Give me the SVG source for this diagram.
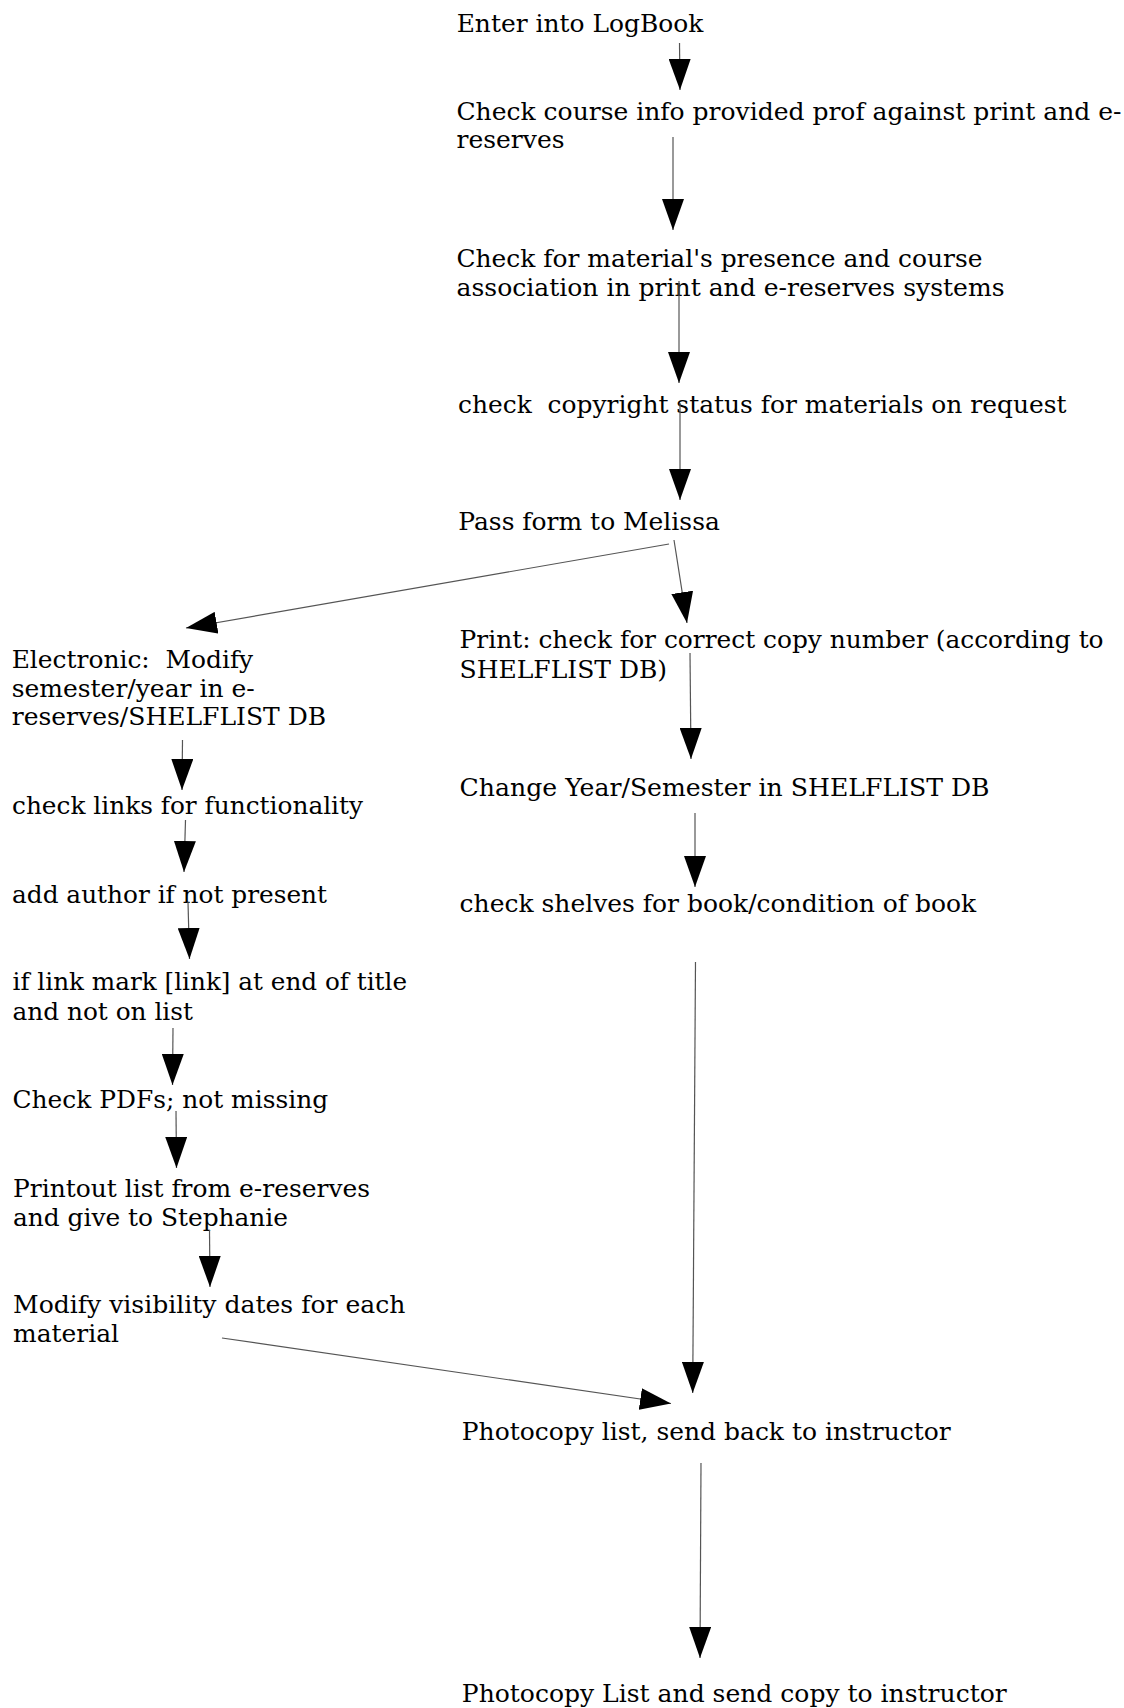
<svg xmlns="http://www.w3.org/2000/svg" width="1124" height="1708" viewBox="0 0 1124 1708">
<defs>
<style>
text{font-family:"DejaVu Serif","Liberation Serif",serif;font-size:25px;fill:#000}
.c line{stroke:#555;stroke-width:1.2;fill:none;marker-end:url(#ah)}
</style>
<marker id="ah" markerUnits="userSpaceOnUse" markerWidth="31" markerHeight="22" refX="31" refY="11" orient="auto" viewBox="0 0 31 22">
<path d="M0,0 L31,11 L0,22 Z" fill="#000"/>
</marker>
</defs>
<rect width="1124" height="1708" fill="#fff"/>
<g id="n1"><text x="456.7" y="31.7" textLength="246.6" lengthAdjust="spacingAndGlyphs">Enter into LogBook</text></g>
<g id="n2"><text x="456.5" y="119.5" textLength="665" lengthAdjust="spacingAndGlyphs">Check course info provided prof against print and e-</text><text x="456.5" y="148.3" textLength="108" lengthAdjust="spacingAndGlyphs">reserves</text></g>
<g id="n3"><text x="456.5" y="267" textLength="526" lengthAdjust="spacingAndGlyphs">Check for material's presence and course</text><text x="456.5" y="296" textLength="548" lengthAdjust="spacingAndGlyphs">association in print and e-reserves systems</text></g>
<g id="n4"><text x="458" y="413.3" textLength="608.5" lengthAdjust="spacingAndGlyphs" xml:space="preserve">check  copyright status for materials on request</text></g>
<g id="n5"><text x="458.3" y="530" textLength="261.5" lengthAdjust="spacingAndGlyphs">Pass form to Melissa</text></g>
<g id="n6"><text x="459.6" y="648.3" textLength="644" lengthAdjust="spacingAndGlyphs">Print: check for correct copy number (according to</text><text x="459.6" y="678.3" textLength="207.5" lengthAdjust="spacingAndGlyphs">SHELFLIST DB)</text></g>
<g id="n7"><text x="459.6" y="795.7" textLength="530" lengthAdjust="spacingAndGlyphs">Change Year/Semester in SHELFLIST DB</text></g>
<g id="n8"><text x="459.6" y="912.3" textLength="516.6" lengthAdjust="spacingAndGlyphs">check shelves for book/condition of book</text></g>
<g id="n9"><text x="461.8" y="1440" textLength="489" lengthAdjust="spacingAndGlyphs">Photocopy list, send back to instructor</text></g>
<g id="n10"><text x="461.8" y="1701.7" textLength="545" lengthAdjust="spacingAndGlyphs">Photocopy List and send copy to instructor</text></g>
<g id="e1"><text x="11.7" y="668" textLength="241.5" lengthAdjust="spacingAndGlyphs" xml:space="preserve">Electronic:  Modify</text><text x="11.7" y="696.7" textLength="243" lengthAdjust="spacingAndGlyphs">semester/year in e-</text><text x="11.7" y="725.3" textLength="314.5" lengthAdjust="spacingAndGlyphs">reserves/SHELFLIST DB</text></g>
<g id="e2"><text x="12" y="814" textLength="351" lengthAdjust="spacingAndGlyphs">check links for functionality</text></g>
<g id="e3"><text x="12" y="902.7" textLength="315" lengthAdjust="spacingAndGlyphs">add author if not present</text></g>
<g id="e4"><text x="12.5" y="990" textLength="394.5" lengthAdjust="spacingAndGlyphs">if link mark [link] at end of title</text><text x="12.5" y="1020" textLength="180.4" lengthAdjust="spacingAndGlyphs">and not on list</text></g>
<g id="e5"><text x="12.5" y="1108" textLength="315.6" lengthAdjust="spacingAndGlyphs">Check PDFs; not missing</text></g>
<g id="e6"><text x="13" y="1196.5" textLength="357" lengthAdjust="spacingAndGlyphs">Printout list from e-reserves</text><text x="13" y="1226" textLength="275" lengthAdjust="spacingAndGlyphs">and give to Stephanie</text></g>
<g id="e7"><text x="13" y="1313.3" textLength="392.4" lengthAdjust="spacingAndGlyphs">Modify visibility dates for each</text><text x="13" y="1342" textLength="106" lengthAdjust="spacingAndGlyphs">material</text></g>
<g id="connectors" class="c">
<line x1="679.5" y1="43" x2="680" y2="90"/>
<line x1="673" y1="137" x2="673" y2="230"/>
<line x1="679" y1="281" x2="679" y2="383"/>
<line x1="680" y1="403" x2="680" y2="500"/>
<line x1="669" y1="544" x2="186" y2="628"/>
<line x1="674" y1="540" x2="687" y2="623"/>
<line x1="690" y1="653" x2="691" y2="759"/>
<line x1="695" y1="813" x2="695" y2="887"/>
<line x1="695.5" y1="962" x2="692.7" y2="1393"/>
<line x1="222" y1="1338" x2="671" y2="1403.5"/>
<line x1="701" y1="1463" x2="700" y2="1658"/>
<line x1="182.5" y1="740" x2="182" y2="790"/>
<line x1="185.5" y1="820" x2="184" y2="872"/>
<line x1="188" y1="902" x2="189.5" y2="959"/>
<line x1="173" y1="1028" x2="172.5" y2="1085"/>
<line x1="176" y1="1111" x2="176.5" y2="1168"/>
<line x1="209.5" y1="1230" x2="210" y2="1287"/>
</g>
</svg>
